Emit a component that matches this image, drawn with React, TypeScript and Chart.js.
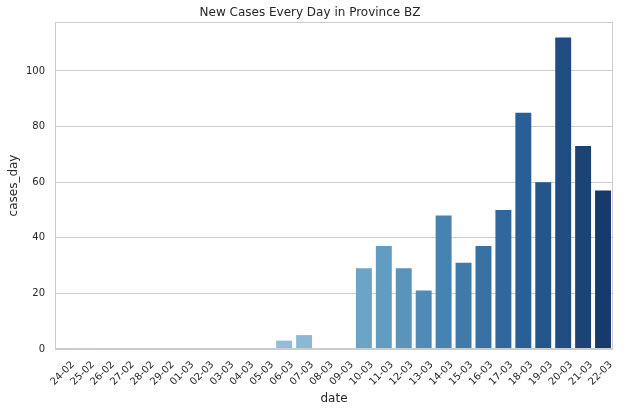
import React, { useEffect, useRef } from "react";
import { Chart, registerables } from "chart.js";

Chart.register(...registerables);

const categories = [
  "24-02", "25-02", "26-02", "27-02", "28-02", "29-02", "01-03", "02-03", "03-03", "04-03",
  "05-03", "06-03", "07-03", "08-03", "09-03", "10-03", "11-03", "12-03", "13-03", "14-03",
  "15-03", "16-03", "17-03", "18-03", "19-03", "20-03", "21-03", "22-03",
];

const casesDay = [
  0, 0.4, 0, 0, 0, 0, 0, 0, 0, 0,
  0, 3, 5, 0, 0, 29, 37, 29, 21, 48,
  31, 37, 50, 85, 60, 112, 73, 57,
];

const yTicks = [0, 20, 40, 60, 80, 100];
const yMax = 117.6;

// palette stops (index -> color), light to dark blue
const paletteStops: [number, string][] = [
  [0, "#e6eef6"],
  [11, "#93bdd7"],
  [12, "#8bb8d4"],
  [15, "#6ca4c7"],
  [19, "#4783b1"],
  [23, "#285f97"],
  [27, "#163a6b"],
];

function hexToRgb(h: string) {
  const n = parseInt(h.slice(1), 16);
  return [(n >> 16) & 255, (n >> 8) & 255, n & 255];
}

function paletteColor(i: number) {
  for (let k = 0; k < paletteStops.length - 1; k++) {
    const [i0, c0] = paletteStops[k];
    const [i1, c1] = paletteStops[k + 1];
    if (i >= i0 && i <= i1) {
      const t = (i - i0) / (i1 - i0);
      const a = hexToRgb(c0);
      const b = hexToRgb(c1);
      const m = a.map((v, j) => Math.round(v + (b[j] - v) * t));
      return `rgb(${m[0]},${m[1]},${m[2]})`;
    }
  }
  return paletteStops[paletteStops.length - 1][1];
}

const FONT = "'DejaVu Sans', sans-serif";
const TEXT = "#262626";
const GRID = "#cccccc";

const frame = {
  id: "frame",
  afterDraw(chart: any) {
    const { ctx, chartArea } = chart;
    ctx.save();
    ctx.strokeStyle = GRID;
    ctx.lineWidth = 1;
    ctx.strokeRect(
      Math.round(chartArea.left) + 0.5,
      Math.round(chartArea.top) + 0.5,
      Math.round(chartArea.right - chartArea.left) - 1,
      Math.round(chartArea.bottom - chartArea.top) - 1
    );
    ctx.restore();
  },
};

export default function App() {
  const ref = useRef<HTMLCanvasElement>(null);

  useEffect(() => {
    document.body.style.margin = "0";
    const canvas = ref.current!;
    const chart = new Chart(canvas, {
      type: "bar",
      data: {
        labels: categories,
        datasets: [
          {
            label: "cases_day",
            data: casesDay,
            backgroundColor: categories.map((_, i) => paletteColor(i)),
            borderWidth: 0,
            categoryPercentage: 1,
            barPercentage: 0.8,
          },
        ],
      },
      options: {
        animation: false,
        responsive: false,
        devicePixelRatio: 1,
        layout: { padding: { left: 7, right: 11, top: 0, bottom: 6 } },
        plugins: {
          legend: { display: false },
          tooltip: { enabled: false },
          title: {
            display: true,
            text: "New Cases Every Day in Province BZ",
            color: TEXT,
            font: { family: FONT, size: 12, weight: "normal" },
            padding: { top: 6, bottom: 1.6 },
          },
        },
        scales: {
          x: {
            grid: { display: false, drawTicks: false },
            border: { display: false },
            ticks: {
              color: TEXT,
              font: { family: FONT, size: 10 },
              maxRotation: 45,
              minRotation: 45,
              autoSkip: false,
              padding: 10,
              labelOffset: 8,
            },
            title: {
              display: true,
              text: "date",
              color: TEXT,
              font: { family: FONT, size: 12 },
              padding: 0,
            },
            afterFit: (s: any) => {
              s.height = 57;
            },
          },
          y: {
            min: 0,
            max: yMax,
            grid: { color: GRID, drawTicks: false, lineWidth: 1 },
            border: { display: false },
            afterBuildTicks: (s: any) => {
              s.ticks = yTicks.map((v) => ({ value: v }));
            },
            ticks: {
              color: TEXT,
              font: { family: FONT, size: 10 },
              padding: 10,
            },
            title: {
              display: true,
              text: "cases_day",
              color: TEXT,
              font: { family: FONT, size: 12 },
              padding: 0,
            },
            afterFit: (s: any) => {
              s.width = 48;
            },
          },
        },
      },
      plugins: [frame],
    });
    return () => chart.destroy();
  }, []);

  return <canvas ref={ref} width={624} height={412} style={{ display: "block" }} />;
}
